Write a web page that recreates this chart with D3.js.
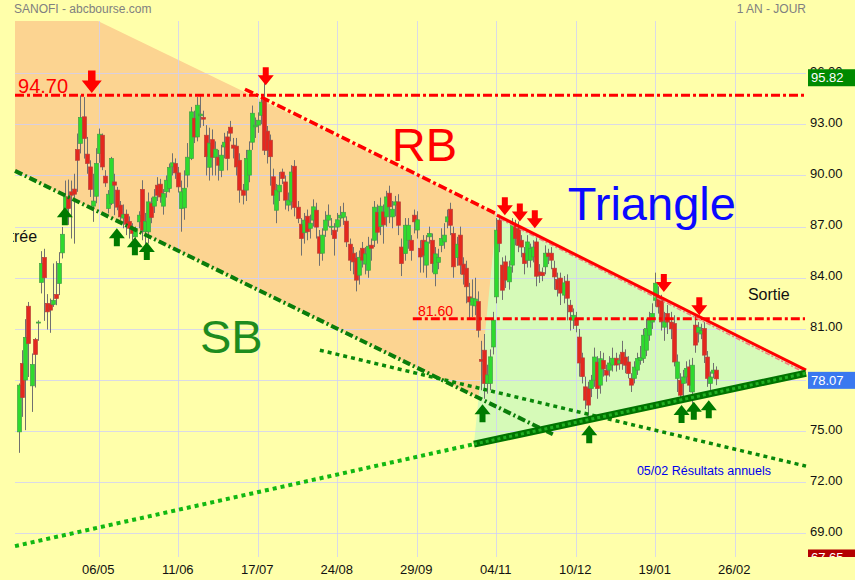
<!DOCTYPE html>
<html><head><meta charset="utf-8">
<script src="https://cdn.jsdelivr.net/npm/d3@7"></script>
<style>body{margin:0;background:#FFFFAA;}svg{display:block;font-family:"Liberation Sans",Arial,sans-serif;}</style>
</head><body><svg id="c" width="855" height="580"></svg>
<script>
// daily candles [open, high, low, close]
const candles = [
[74.96,77.8,73.73,77.7],[78.97,79.75,75.84,76.97],[78.0,81.57,75.06,80.5],[82.33,82.58,78.18,80.14],[77.66,79.56,76.13,78.91],
[80.38,80.47,77.56,79.5],[81.35,81.5,80.3,81.4],[83.72,85.56,83.08,84.84],[85.19,85.7,81.47,84.0],[82.49,83.04,80.96,82.0],
[82.45,82.78,80.77,82.1],[82.43,84.84,82.29,82.68],[83.02,84.97,82.39,82.78],[83.66,85.5,82.98,84.84],[85.46,86.98,85.13,86.55],
[87.9,89.7,87.4,88.75],[88.74,89.76,87.1,88.06],[89.04,89.7,86.3,88.84],[89.2,90.1,86.0,88.9],[91.52,92.46,89.04,90.89],
[91.88,94.7,91.29,93.4],[93.44,94.6,90.99,92.17],[91.25,92.26,90.1,90.7],[90.5,90.89,88.74,89.18],[88.2,90.1,87.28,88.5],
[88.78,91.6,88.37,90.7],[91.29,92.75,90.74,92.42],[92.36,92.46,90.31,90.5],[89.96,90.31,89.33,89.56],[88.06,89.14,87.77,88.9],
[88.36,91.09,88.26,90.99],[89.62,90.1,87.67,89.43],[89.14,89.33,87.96,88.14],[88.26,88.5,87.38,87.57],[87.5,88.3,86.9,87.7],
[87.73,88.0,86.5,87.14],[87.3,87.6,86.3,86.9],[86.9,87.2,86.2,86.6],[86.4,87.0,85.9,86.79],[87.28,87.9,86.9,87.67],
[89.18,89.72,86.2,86.79],[86.7,87.8,85.9,87.3],[86.69,89.0,86.0,88.45],[88.36,88.7,87.2,87.53],[88.2,89.2,87.8,88.74],
[89.43,89.9,88.5,88.84],[89.49,89.8,88.4,88.74],[88.2,89.2,87.7,88.94],[89.04,90.0,88.7,89.72],[89.24,90.7,89.0,90.47],
[90.5,91.3,90.0,90.74],[90.7,91.0,89.8,90.15],[90.15,90.5,89.0,89.33],[88.06,89.7,86.7,89.04],[88.1,90.3,87.4,89.25],
[90.02,91.9,89.3,91.07],[90.99,94.02,90.9,93.73],[93.36,93.8,91.9,92.26],[92.26,94.6,92.0,94.12],[93.5,94.65,92.8,93.6],
[93.4,93.8,92.9,93.3],[92.36,92.95,90.0,91.1],[90.48,92.8,89.7,91.9],[92.1,92.7,90.0,91.07],[91.07,92.0,90.0,91.54],
[91.07,91.5,89.7,90.6],[90.3,91.8,89.9,91.19],[91.67,92.5,91.0,91.95],[92.26,92.6,90.3,90.99],[92.83,93.2,92.0,92.48],
[91.78,92.2,91.0,91.6],[91.72,92.2,90.0,90.5],[90.89,91.3,88.4,89.14],[89.14,89.5,88.3,88.84],[89.14,91.5,88.5,91.0],
[90.02,92.0,89.6,91.48],[91.95,94.1,91.5,93.65],[92.85,93.4,92.2,92.95],[92.95,93.7,92.5,93.24],[93.53,94.5,93.0,94.3],
[94.41,95.82,91.2,91.48],[92.6,92.9,90.7,91.48],[92.07,92.4,89.4,91.1],[89.92,90.4,88.3,88.84],[87.96,89.5,87.2,89.14],
[89.04,90.2,88.5,89.43],[90.2,90.4,89.5,89.82],[89.62,90.0,88.0,88.55],[88.26,89.0,87.9,88.55],[88.45,90.6,88.0,90.2],
[90.54,90.9,87.6,88.12],[88.14,88.5,87.2,87.48],[87.14,87.5,85.3,86.3],[86.64,87.8,86.0,87.38],[87.61,88.0,86.2,86.7],
[86.9,87.7,86.3,87.2],[87.38,88.6,87.0,88.16],[87.96,88.4,86.3,86.97],[86.4,86.8,84.7,85.44],[85.44,86.9,85.0,86.5],
[86.79,87.9,86.4,87.38],[87.38,88.3,87.0,87.67],[87.0,87.5,86.5,87.02],[86.79,87.2,85.3,86.3],[86.97,87.8,86.7,87.4],
[87.5,88.2,87.0,87.67],[87.55,88.4,87.1,87.84],[87.32,87.6,85.8,86.1],[85.97,86.3,84.4,85.03],[85.44,85.8,84.2,84.93],
[85.15,85.5,83.2,83.86],[84.15,85.6,83.6,85.2],[85.73,86.1,84.6,85.03],[84.8,85.8,84.2,85.4],[84.44,86.4,84.0,85.85],
[85.91,86.3,85.0,85.73],[86.2,88.5,85.8,88.14],[87.84,88.3,86.0,86.67],[87.0,88.7,86.5,88.2],[87.86,88.3,86.0,87.1],
[87.57,89.1,87.0,88.74],[88.96,89.4,87.2,88.16],[87.57,88.5,86.9,88.02],[88.26,88.8,87.6,88.45],[88.45,88.9,86.5,87.08],
[85.8,86.3,84.1,84.83],[85.42,87.5,85.0,87.08],[86.2,87.5,85.7,87.08],[86.2,86.5,85.0,85.6],[87.67,88.0,86.6,87.28],
[86.8,87.9,86.3,87.4],[85.73,86.2,84.3,85.22],[86.2,86.5,84.3,85.32],[84.74,86.5,84.0,86.1],[86.4,87.0,86.0,86.6],
[86.2,86.6,84.3,84.83],[84.23,85.8,83.5,85.4],[84.9,85.7,84.5,85.2],[85.9,86.9,85.5,86.3],[86.1,87.2,85.7,86.5],
[87.28,88.0,86.9,87.57],[88.02,88.4,86.5,87.08],[86.6,87.0,84.0,84.64],[85.18,86.4,84.7,85.97],[86.5,87.0,84.2,84.74],
[84.8,85.2,83.6,84.2],[84.56,85.0,82.5,83.47],[82.88,83.7,81.6,82.58],[82.39,83.9,81.7,82.8],[82.35,84.0,81.8,82.75],
[82.6,83.2,80.5,80.92],[79.2,80.3,77.4,79.1],[79.75,80.7,76.9,77.8],[77.8,78.9,77.2,78.3],[77.8,79.8,77.4,79.36],
[79.94,82.0,79.5,81.51],[82.88,87.5,82.5,86.79],[87.38,87.7,85.5,86.01],[84.74,85.2,82.7,83.27],[84.93,85.3,83.4,83.86],
[83.76,85.0,83.3,84.64],[84.74,87.5,84.3,87.2],[87.08,87.4,85.9,86.3],[86.9,87.3,85.5,85.9],[86.2,86.5,85.2,85.8],
[85.44,85.8,84.2,84.83],[85.03,86.5,84.6,86.1],[85.03,86.0,84.6,85.73],[85.22,86.2,84.9,85.8],[86.1,86.4,83.5,84.09],
[84.34,84.8,83.7,84.15],[84.3,84.6,83.8,84.12],[84.64,85.9,84.2,85.44],[85.44,85.7,84.8,85.25],[85.44,85.8,84.5,85.03],
[84.56,85.0,83.3,84.05],[83.9,84.3,82.9,83.3],[83.98,84.3,82.4,83.1],[82.98,84.1,82.5,83.7],[83.8,84.2,81.5,82.8],
[82.39,82.7,80.9,82.0],[81.51,82.2,81.0,81.8],[81.6,82.0,80.8,81.2],[80.52,81.0,78.2,79.0],[79.3,79.6,77.8,78.2],
[77.6,78.2,76.3,76.82],[77.5,77.9,75.9,76.53],[77.5,78.3,77.0,77.99],[77.99,79.9,77.6,79.35],[79.05,79.4,76.9,77.5],
[77.7,79.7,77.2,79.25],[79.15,79.6,78.2,78.65],[78.58,78.9,77.9,78.29],[78.58,79.4,78.2,79.0],[78.88,79.9,78.5,79.28],
[79.28,79.6,78.5,78.88],[78.98,79.5,78.6,79.16],[79.63,80.3,78.6,78.95],[79.35,79.8,78.4,78.87],[79.06,79.4,78.1,78.38],
[78.1,78.4,77.3,77.7],[78.1,79.1,77.8,78.76],[78.58,79.6,78.3,79.26],[79.15,80.0,78.9,79.32],[79.26,81.0,79.0,80.63],
[79.75,81.6,79.4,81.02],[80.63,82.0,80.3,81.51],[81.4,82.5,81.0,81.9],[82.68,84.3,82.3,83.68],[82.88,83.5,81.9,82.29],
[82.68,83.0,80.9,81.41],[81.1,82.0,80.3,81.41],[81.9,82.4,80.7,81.4],[81.4,82.0,80.4,81.0],[81.31,81.8,78.8,79.06],
[78.1,79.5,77.3,79.06],[77.99,78.4,76.7,77.11],[77.8,78.6,77.0,78.18],[78.18,79.1,77.8,78.68],[78.77,79.2,77.3,77.7],
[77.3,79.3,76.6,78.87],[81.22,81.8,79.6,80.05],[80.8,81.4,80.2,81.1],[80.7,81.3,80.4,80.9],[81.02,81.4,79.0,79.46],
[79.35,79.7,77.6,78.1],[77.8,78.5,77.4,78.18],[78.4,79.0,78.1,78.58],[78.58,78.8,77.7,78.07]
];
const dateTicks = [26,52,78,104,130,156,182,208,234];
const dateLabels = ["06/05","11/06","17/07","24/08","29/09","04/11","10/12","19/01","26/02"];
const priceTicks = [69,72,75,78,81,84,87,90,93,96];
const tagValues = [95.82,78.07,67.65];
const tagColors = ["#008A00","#3A78F0","#B40000"];
// drawn levels / trend lines, as [day index, price] pairs
const resistance1 = 94.70;
const resistance2 = 81.60;
const res2Start = 128.7;
const rbLine = [[73.8,95.06],[156.2,87.73]];
const triTop = [[156.2,87.67],[257.3,78.58]];
const triTopShadow = [[157.2,87.45],[257.3,78.4]];
const triBottom = [[148.7,74.24],[257.3,78.4]];
const sbLine = [[-1.41,90.27],[174.5,74.82]];
const supportDotted = [[-1.41,68.26],[148.7,74.24]];
const lowerDotted = [[98.3,79.75],[257.3,72.95]];
const orangeZone = [[-1.41,99.06],[25.7,99.06],[156.2,87.73],[150.7,76.9],[-1.41,90.27]];
const triangleZone = [[156.2,87.73],[257.3,78.64],[257.3,78.35],[148.7,74.24]];
const redArrows = [[23.7,94.83,1.25],[80.6,95.29,1],[158.8,87.67,1],[163.7,87.3,1],[168.6,86.91,1],[210.8,83.17,1],[222.4,81.8,1]];
const greenArrows = [[14.9,88.14],[31.9,86.91],[37.8,86.38],[41.7,86.1],[151.5,76.58],[186.4,75.35],[216.6,76.53],[220.6,76.72],[225.5,76.82]];
const notes = [
 {t:"RB",i:121.8,p:90.84,size:47,color:"#FF0000"},
 {t:"Triangle",i:179.4,p:87.38,size:47,color:"#0A0AFF"},
 {t:"SB",i:59.1,p:79.58,size:47,color:"#1E8C1E"},
 {t:"Sortie",i:238.3,p:82.68,size:16,color:"#111"},
 {t:"05/02 Résultats annuels",i:202,p:72.42,size:12.5,color:"#0000EE"},
 {t:"94.70",i:-0.42,p:94.83,size:20,color:"#FF0000"},
 {t:"81.60",i:130.4,p:81.75,size:14,color:"#FF0000"}
];
const entryNote = {t:"Entrée",i:5.8,p:86.09};

const svg = d3.select("#c");
const x = d3.scaleLinear().domain([-1.41, 257.3]).range([15, 806]);
const y = d3.scaleLinear().domain([67.62, 99.06]).range([557, 21]);
const L = 15, R = 806, T = 21, B = 557;
const line = d3.line().x(d=>x(d[0])).y(d=>y(d[1]));

svg.append("rect").attr("width",855).attr("height",580).attr("fill","#FFFFAA");
const defs = svg.append("defs");
defs.append("clipPath").attr("id","plot").append("rect").attr("x",0).attr("y",0).attr("width",855).attr("height",B);
defs.append("clipPath").attr("id","leftclip").append("rect").attr("x",13).attr("y",0).attr("width",842).attr("height",580);

// zones
svg.append("path").attr("d", line(orangeZone)+"Z").attr("fill","#FCD491");
svg.append("path").attr("d", line(triangleZone)+"Z").attr("fill","#D6FAB8");

// grid
const grid = svg.append("g").attr("stroke","rgba(205,205,250,0.75)").attr("stroke-width",1);
grid.selectAll("line.h").data(priceTicks).join("line")
  .attr("x1",L).attr("x2",R).attr("y1",d=>Math.round(y(d))+0.5).attr("y2",d=>Math.round(y(d))+0.5);
grid.selectAll("line.v").data(dateTicks).join("line")
  .attr("y1",T).attr("y2",B).attr("x1",d=>Math.round(x(d))+0.5).attr("x2",d=>Math.round(x(d))+0.5);

// candles
const cg = svg.append("g");
cg.selectAll("line").data(candles).join("line")
  .attr("x1",(d,i)=>Math.round(x(i))+0.5).attr("x2",(d,i)=>Math.round(x(i))+0.5)
  .attr("y1",d=>y(d[1])).attr("y2",d=>y(d[2])).attr("stroke","#707070").attr("stroke-width",1);
cg.selectAll("rect").data(candles).join("rect")
  .attr("x",(d,i)=>Math.round(x(i))-1.5).attr("width",4)
  .attr("y",d=>y(Math.max(d[0],d[3])))
  .attr("height",d=>Math.max(1,Math.abs(y(d[0])-y(d[3]))))
  .attr("fill",d=>d[3]>=d[0]?"#2EDA2E":"#E4281E")
  .attr("stroke",d=>d[3]>=d[0]?"#44A044":"#B84038").attr("stroke-width",0.7);

// lines
const dd = "9,3,3,3";
svg.append("line").attr("x1",L).attr("x2",R-1).attr("y1",y(resistance1)).attr("y2",y(resistance1))
  .attr("stroke","#FF0000").attr("stroke-width",3).attr("stroke-dasharray",dd);
svg.append("line").attr("x1",x(res2Start)).attr("x2",R-1).attr("y1",y(resistance2)).attr("y2",y(resistance2))
  .attr("stroke","#FF0000").attr("stroke-width",3).attr("stroke-dasharray",dd);
svg.append("path").attr("d",line(rbLine)).attr("stroke","#FF0000").attr("stroke-width",3.5).attr("fill","none").attr("stroke-dasharray",dd);
svg.append("path").attr("d",line(triTopShadow)).attr("stroke","#F08080").attr("stroke-width",1.5).attr("fill","none").attr("stroke-dasharray","5,2,2,2");
svg.append("path").attr("d",line(triTop)).attr("stroke","#FF0000").attr("stroke-width",3).attr("fill","none");
svg.append("path").attr("d",line(sbLine)).attr("stroke","#0A7D0A").attr("stroke-width",4).attr("fill","none").attr("stroke-dasharray","8,3,2,3");
svg.append("path").attr("d",line(supportDotted)).attr("stroke","#12B812").attr("stroke-width",4).attr("fill","none").attr("stroke-dasharray","4,4");
svg.append("path").attr("d",line(lowerDotted)).attr("stroke","#0A880A").attr("stroke-width",3.5).attr("fill","none").attr("stroke-dasharray","4,4");
svg.append("path").attr("d",line(triBottom)).attr("stroke","#007400").attr("stroke-width",7).attr("fill","none");
svg.append("path").attr("d",line(triBottom)).attr("stroke","#22B022").attr("stroke-width",3).attr("fill","none").attr("stroke-dasharray","3,3");

// arrows
const downArrow = "M0,0L-8,-10L-3,-10L-3,-18L3,-18L3,-10L8,-10Z";
const upArrow = "M0,0L-8,10L-3,10L-3,18L3,18L3,10L8,10Z";
svg.append("g").selectAll("path").data(redArrows).join("path")
  .attr("d",downArrow).attr("fill","#FF0000")
  .attr("transform",d=>`translate(${x(d[0])},${y(d[1])}) scale(${d[2]})`);
svg.append("g").selectAll("path").data(greenArrows).join("path")
  .attr("d",upArrow).attr("fill","#007A00")
  .attr("transform",d=>`translate(${x(d[0])},${y(d[1])})`);

// notes
svg.append("g").selectAll("text").data(notes).join("text")
  .attr("x",d=>x(d.i)).attr("y",d=>y(d.p)).attr("font-size",d=>d.size).attr("fill",d=>d.color).text(d=>d.t);
svg.append("g").attr("clip-path","url(#leftclip)").append("text")
  .attr("x",x(entryNote.i)).attr("y",y(entryNote.p)).attr("text-anchor","end").attr("font-size",16).attr("fill","#111").text(entryNote.t);

// axes
const ya = svg.append("g").attr("transform",`translate(${R},0)`)
  .call(d3.axisRight(y).tickValues(priceTicks).tickFormat(d3.format(".2f")).tickSize(0).tickPadding(4));
ya.select(".domain").remove();
ya.selectAll("text").attr("font-size",13).attr("fill","#111").attr("dy","0.15em").attr("font-family",'"Liberation Sans",Arial,sans-serif');
const xa = svg.append("g").attr("transform",`translate(0,${B})`)
  .call(d3.axisBottom(x).tickValues(dateTicks).tickFormat((d,i)=>dateLabels[i]).tickSize(0).tickPadding(8));
xa.select(".domain").remove();
xa.selectAll("text").attr("font-size",13).attr("fill","#111").attr("x",-1).attr("font-family",'"Liberation Sans",Arial,sans-serif');

// value tags
const tg = svg.append("g").attr("clip-path","url(#plot)");
tg.selectAll("rect").data(tagValues).join("rect")
  .attr("x",808).attr("width",47).attr("y",d=>y(d)-7).attr("height",17).attr("fill",(d,i)=>tagColors[i]);
tg.selectAll("text").data(tagValues).join("text")
  .attr("x",811).attr("y",d=>y(d)+6).attr("font-size",13).attr("fill","#fff").text(d=>d.toFixed(2));

// header
svg.append("text").attr("x",14).attr("y",13).attr("font-size",12).attr("fill","#808080").text("SANOFI - abcbourse.com");
svg.append("text").attr("x",806).attr("y",13).attr("font-size",12).attr("fill","#808080").attr("text-anchor","end").text("1 AN - JOUR");
</script></body></html>
